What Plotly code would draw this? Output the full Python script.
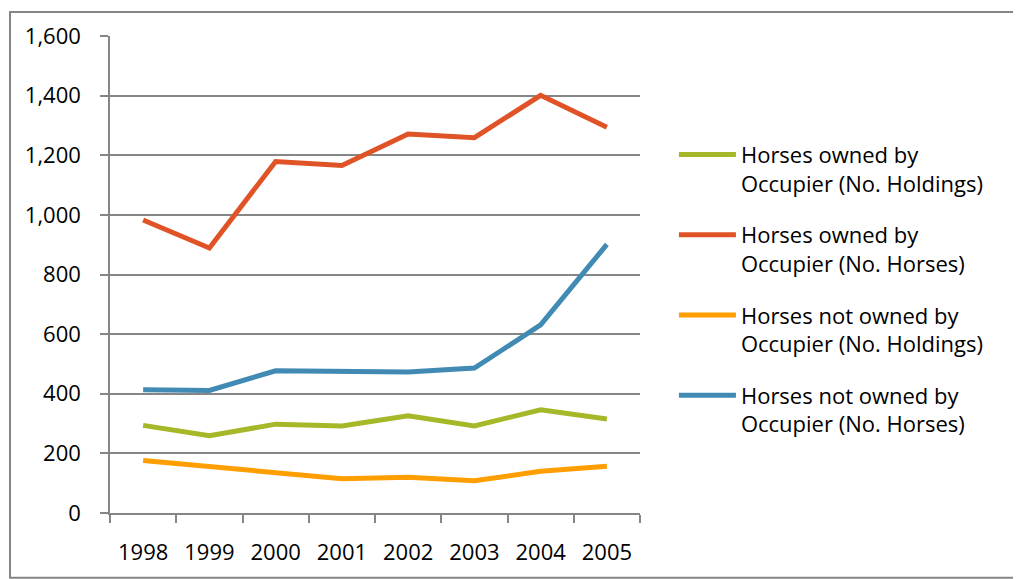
import plotly.graph_objects as go

years = ["1998", "1999", "2000", "2001", "2002", "2003", "2004", "2005"]
owned_holdings = [294, 259, 298, 292, 326, 292, 346, 315]
owned_horses = [983, 889, 1179, 1166, 1271, 1259, 1401, 1294]
not_owned_holdings = [176, 155, 135, 115, 120, 108, 140, 157]
not_owned_horses = [413, 411, 477, 477, 473, 486, 631, 901]

names = [
    "Horses owned by<br>Occupier (No. Holdings)",
    "Horses owned by<br>Occupier (No. Horses)",
    "Horses not owned by<br>Occupier (No. Holdings)",
    "Horses not owned by<br>Occupier (No. Horses)",
]
series = [owned_holdings, owned_horses, not_owned_holdings, not_owned_horses]
colors = ["#A6B727", "#DF5327", "#FE9E00", "#418AB3"]

FONT = "Open Sans"
GRAY = "#868686"

fig = go.Figure()
for i, (name, vals, col) in enumerate(zip(names, series, colors)):
    fig.add_trace(go.Scatter(
        x=years, y=vals, name=name, mode="lines", legendgroup=f"g{i}",
        line=dict(color=col, width=5),
    ))

# chart border: left, top and bottom edges (right edge lies outside the view)
bx0, bx1, by0, by1 = -0.1887, 1.8, -0.1357, 1.0501
border_path = f"M {bx1},{by1} L {bx0},{by1} L {bx0},{by0} L {bx1},{by0}"

fig.update_layout(
    width=1021, height=579,
    margin=dict(l=102, r=389, t=26, b=74),
    paper_bgcolor="white", plot_bgcolor="white",
    font=dict(family=FONT, size=20, color="#000000"),
    showlegend=True,
    legend=dict(
        x=1.064, y=0.795, xanchor="left", yanchor="top",
        font=dict(family=FONT, size=22, color="#000000"),
        valign="top", tracegroupgap=20, itemwidth=57,
        bgcolor="rgba(0,0,0,0)",
    ),
    xaxis=dict(
        type="category", range=[-0.5, 7.5],
        tickson="boundaries", ticks="outside", ticklen=8, tickcolor=GRAY, tickwidth=1.5,
        showline=True, linecolor=GRAY, linewidth=1.5,
        showgrid=False, ticklabelstandoff=19,
        tickfont=dict(family=FONT, size=22),
    ),
    yaxis=dict(
        range=[0, 1600], dtick=200, tickformat=",",
        ticks="outside", ticklen=8, tickcolor=GRAY, tickwidth=1.5,
        showline=True, linecolor=GRAY, linewidth=1.5,
        showgrid=True, gridcolor=GRAY, gridwidth=1.5,
        zeroline=False, ticklabelstandoff=15,
        tickfont=dict(family=FONT, size=22),
    ),
    shapes=[dict(
        type="path", xref="paper", yref="paper", path=border_path,
        line=dict(color=GRAY, width=2), layer="below",
    )],
)

fig.write_html("out.html")
